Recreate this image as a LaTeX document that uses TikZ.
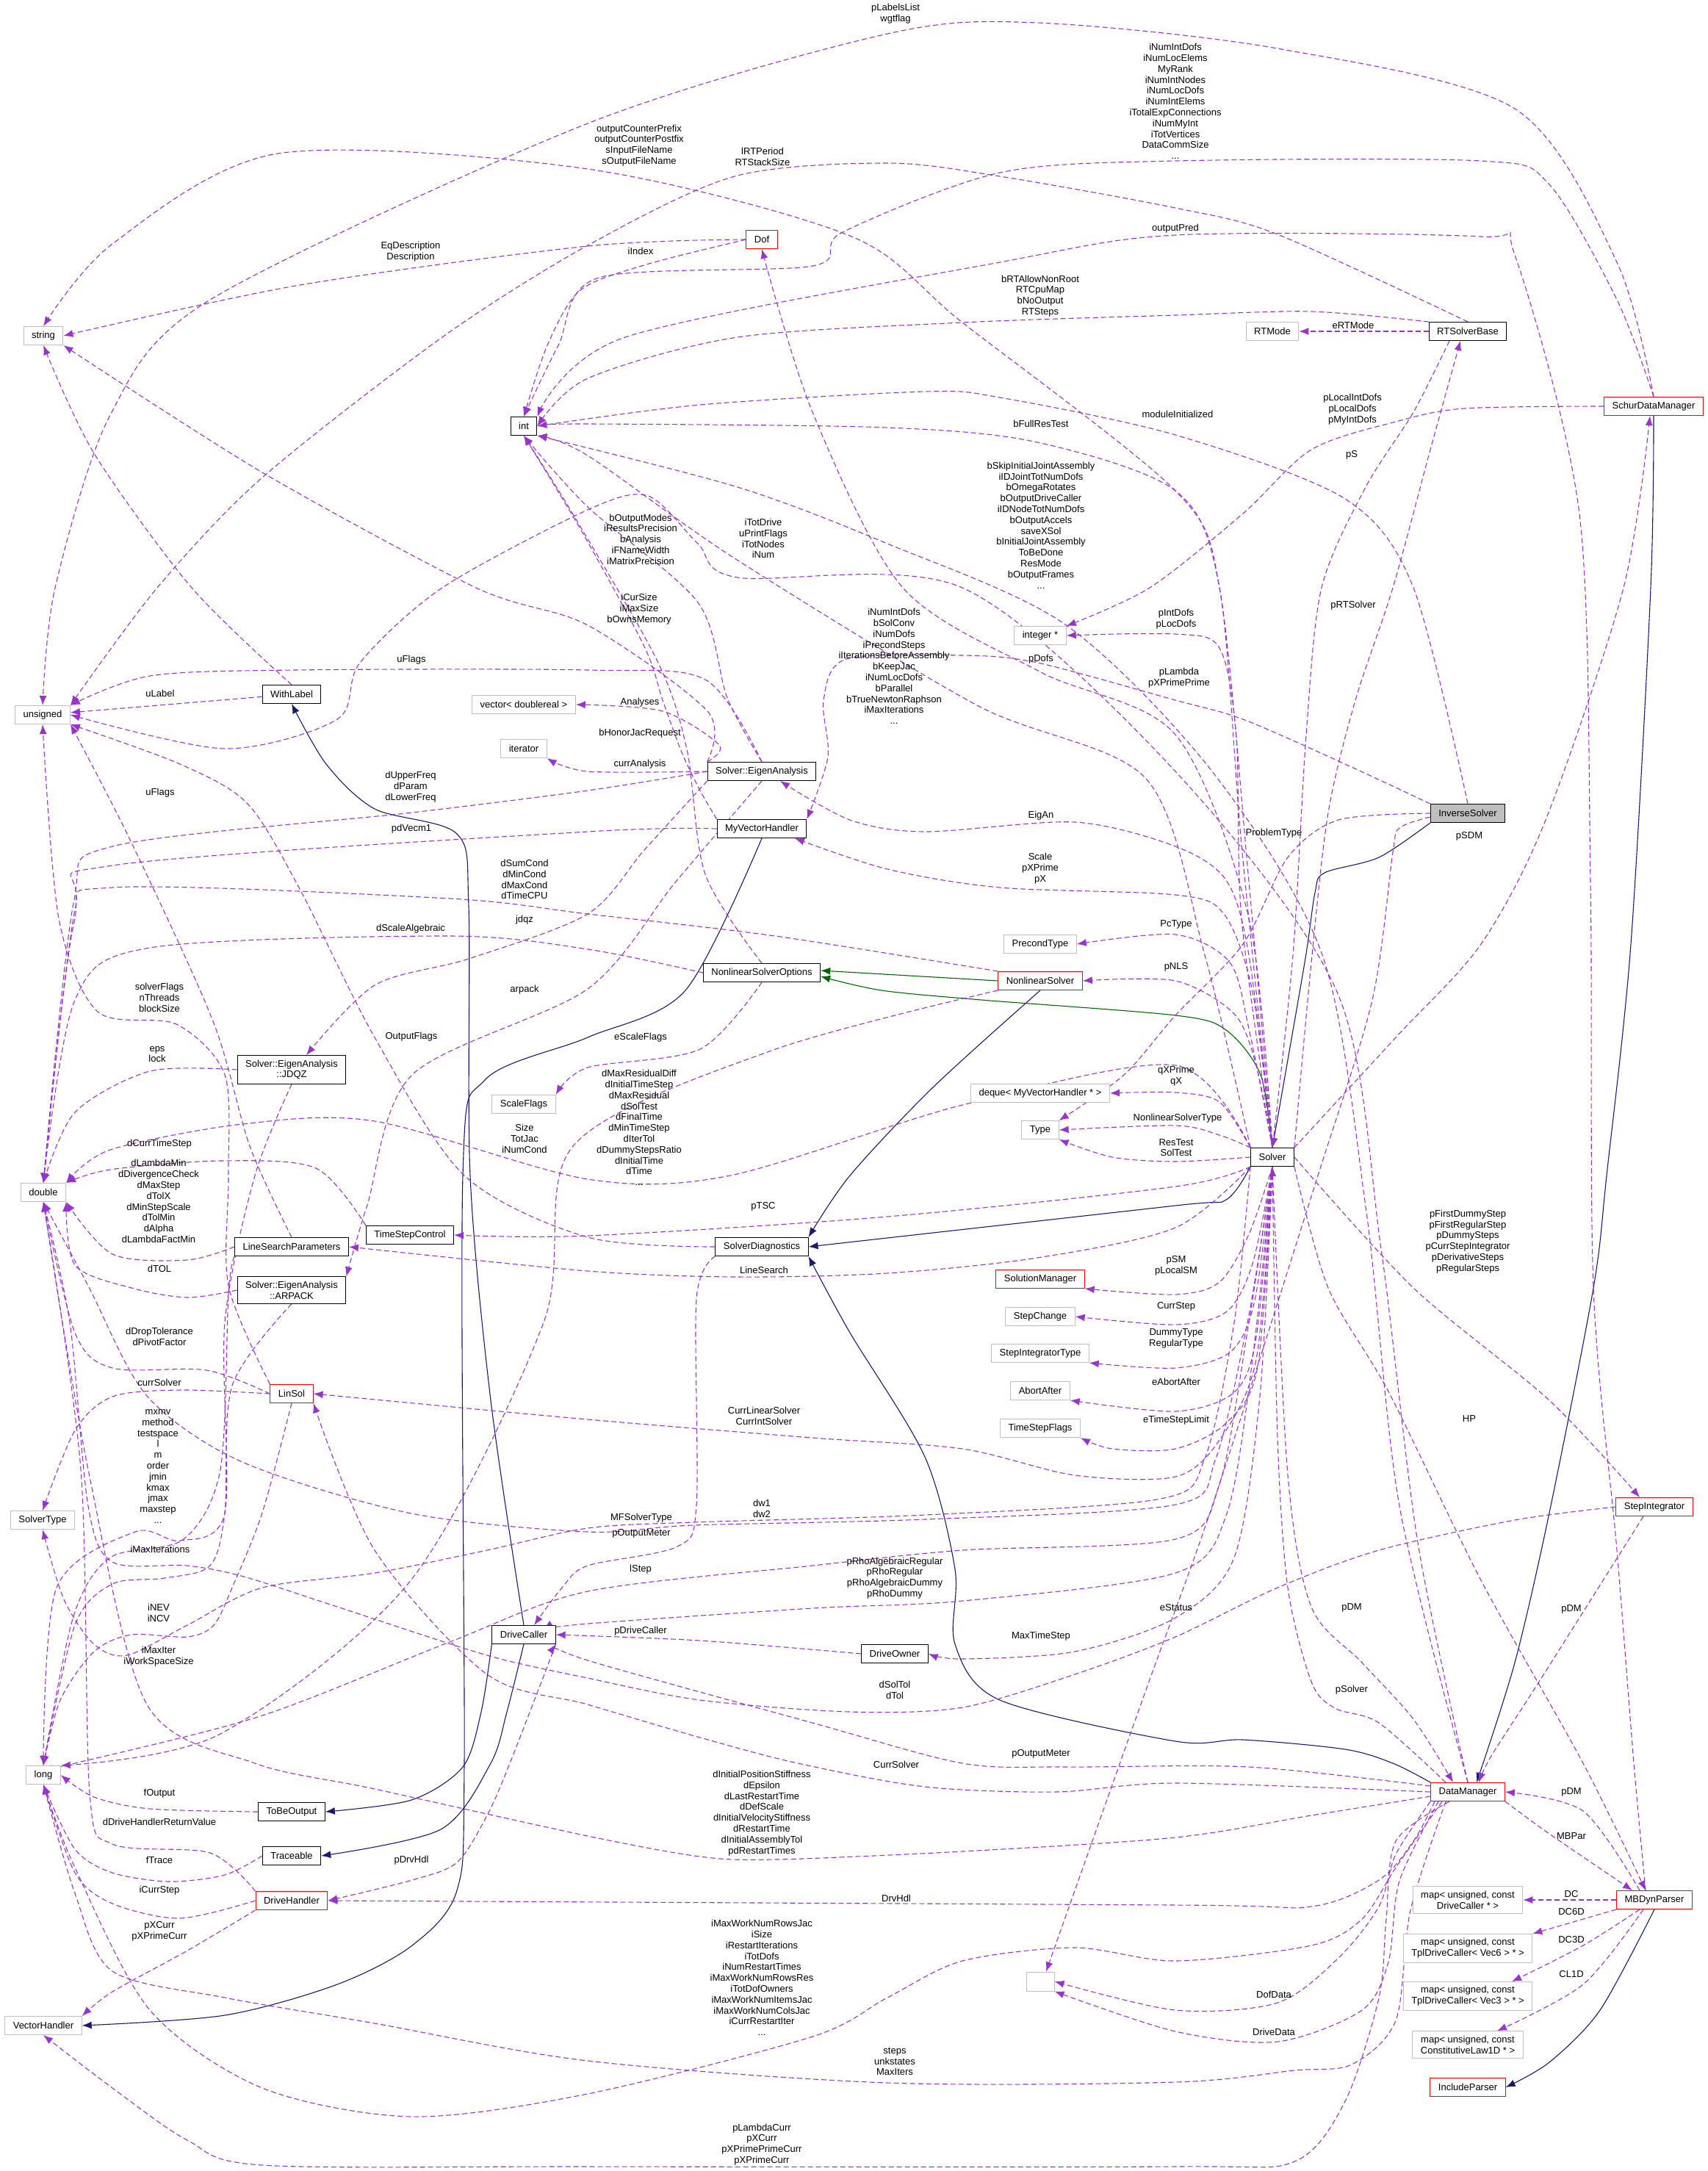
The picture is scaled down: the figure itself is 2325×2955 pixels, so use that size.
\documentclass[tikz,border=0pt]{standalone}
\usepackage{fontspec}
\setmainfont{Liberation Sans}
\usetikzlibrary{arrows.meta,backgrounds}
\definecolor{purp}{RGB}{154,50,205}
\definecolor{navy}{RGB}{25,25,112}
\definecolor{dkgreen}{RGB}{0,100,0}
\definecolor{extgray}{RGB}{191,191,191}
\newcommand\lbl{\fontsize{13}{14.8}\selectfont}
\begin{document}
\begin{tikzpicture}[x=1pt, y=-1pt,
  box/.style={draw, line width=1pt, fill=white, font=\lbl, align=center, inner xsep=11pt, inner ysep=6pt, minimum height=25pt},
  ext/.style={box, draw=extgray},
  undoc/.style={box, draw=red},
  lab/.style={font=\lbl, align=center, inner sep=0pt},
  member/.style={purp, line width=1.1pt, dash pattern=on 7pt off 4pt, line join=round, smooth, tension=0.5, -{Latex[length=13pt,width=10pt]}},
  inherit/.style={navy, line width=1.1pt, smooth, tension=0.5, -{Latex[length=13pt,width=10pt]}},
  protinherit/.style={dkgreen, line width=1.1pt, smooth, tension=0.5, -{Latex[length=13pt,width=10pt]}}
]
\useasboundingbox (0,0) rectangle (2325,2955);

% classes
\node[ext] (string) at (59,457) {string};
\node[box] (int) at (713,580) {int};
\node[undoc] (Dof) at (1037,326) {Dof};
\node[ext] (RTMode) at (1732,451) {RTMode};
\node[box] (RTSolverBase) at (1998,451) {RTSolverBase};
\node[undoc] (SchurDM) at (2251,553) {SchurDataManager};
\node[ext] (unsigned) at (58,973) {unsigned};
\node[box] (WithLabel) at (397,945) {WithLabel};
\node[ext] (vecdr) at (713,959) {vector< doublereal >};
\node[ext] (iterator) at (713,1019) {iterator};
\node[ext] (integerp) at (1416,865) {integer *};
\node[box] (EigAn) at (1037,1050) {Solver::EigenAnalysis};
\node[box] (MyVH) at (1037,1128) {MyVectorHandler};
\node[box, fill=black!25] (InvSolver) at (1998,1107) {InverseSolver};
\node[ext] (PrecondType) at (1416,1285) {PrecondType};
\node[box] (NLSOpt) at (1037,1324) {NonlinearSolverOptions};
\node[undoc] (NLS) at (1416,1335) {NonlinearSolver};
\node[box] (JDQZ) at (397,1456) {Solver::EigenAnalysis\\::JDQZ};
\node[ext] (deque) at (1416,1488) {deque< MyVectorHandler * >};
\node[ext] (ScaleFlags) at (713,1503) {ScaleFlags};
\node[ext] (Type) at (1416,1538) {Type};
\node[box] (Solver) at (1732,1575) {Solver};
\node[ext] (double) at (59,1623) {double};
\node[box] (TSC) at (558,1681) {TimeStepControl};
\node[box] (LSP) at (397,1697) {LineSearchParameters};
\node[box] (SolverDiag) at (1037,1697) {SolverDiagnostics};
\node[undoc] (SolMan) at (1416,1741) {SolutionManager};
\node[box] (ARPACK) at (397,1756) {Solver::EigenAnalysis\\::ARPACK};
\node[ext] (StepChange) at (1416,1792) {StepChange};
\node[ext] (SIType) at (1416,1842) {StepIntegratorType};
\node[ext] (AbortAfter) at (1416,1893) {AbortAfter};
\node[undoc] (LinSol) at (397,1897) {LinSol};
\node[ext] (TSFlags) at (1416,1944) {TimeStepFlags};
\node[undoc] (StepInt) at (2252,2051) {StepIntegrator};
\node[ext] (SolverType) at (58,2069) {SolverType};
\node[box] (DriveCaller) at (713,2225) {DriveCaller};
\node[box] (DriveOwner) at (1218,2251) {DriveOwner};
\node[ext] (long) at (59,2416) {long};
\node[undoc] (DM) at (1998,2439) {DataManager};
\node[box] (ToBeOutput) at (397,2466) {ToBeOutput};
\node[box] (Traceable) at (397,2526) {Traceable};
\node[undoc] (DriveHandler) at (397,2587) {DriveHandler};
\node[undoc] (MBDynParser) at (2252,2586) {MBDynParser};
\node[ext] (mapDC) at (1998,2586) {map< unsigned, const\\DriveCaller * >};
\node[ext] (mapV6) at (1998,2652) {map< unsigned, const\\TplDriveCaller< Vec6 > * >};
\node[ext] (mapV3) at (1998,2717) {map< unsigned, const\\TplDriveCaller< Vec3 > * >};
\node[ext] (mapCL) at (1998,2783) {map< unsigned, const\\ConstitutiveLaw1D * >};
\node[ext, minimum width=38pt, minimum height=26pt] (anon) at (1416,2697) {};
\node[ext] (VectorHandler) at (59,2757) {VectorHandler};
\node[undoc] (IncludeParser) at (1998,2841) {IncludeParser};

% member labels
\node[lab] (lPLabels) at (1219,19) {pLabelsList\\wgtflag};
\node[lab] (lSchurInt) at (1600,138) {iNumIntDofs\\iNumLocElems\\MyRank\\iNumIntNodes\\iNumLocDofs\\iNumIntElems\\iTotalExpConnections\\iNumMyInt\\iTotVertices\\DataCommSize\\...};
\node[lab] (lOutCnt) at (870,198) {outputCounterPrefix\\outputCounterPostfix\\sInputFileName\\sOutputFileName};
\node[lab] (lRTPeriod) at (1038,213) {lRTPeriod\\RTStackSize};
\node[lab] (lEqDesc) at (559,343) {EqDescription\\Description};
\node[lab] (liIndex) at (872,342) {iIndex};
\node[lab] (lOutPred) at (1600,311) {outputPred};
\node[lab] (lRTAllow) at (1416,403) {bRTAllowNonRoot\\RTCpuMap\\bNoOutput\\RTSteps};
\node[lab] (leRTMode) at (1842,443) {eRTMode};
\node[lab] (lLocalInt) at (1841,557) {pLocalIntDofs\\pLocalDofs\\pMyIntDofs};
\node[lab] (lModInit) at (1603,564) {moduleInitialized};
\node[lab] (lFullRes) at (1417,577) {bFullResTest};
\node[lab] (lSkip) at (1417,715) {bSkipInitialJointAssembly\\iIDJointTotNumDofs\\bOmegaRotates\\bOutputDriveCaller\\iIDNodeTotNumDofs\\bOutputAccels\\saveXSol\\bInitialJointAssembly\\ToBeDone\\ResMode\\bOutputFrames\\...};
\node[lab] (lpS) at (1840,619) {pS};
\node[lab] (lpRT) at (1842,824) {pRTSolver};
\node[lab] (lTotDrive) at (1039,733) {iTotDrive\\uPrintFlags\\iTotNodes\\iNum};
\node[lab] (lOutModes) at (872,734) {bOutputModes\\iResultsPrecision\\bAnalysis\\iFNameWidth\\iMatrixPrecision};
\node[lab] (lCurSize) at (870,829) {iCurSize\\iMaxSize\\bOwnsMemory};
\node[lab] (lNumInt) at (1217,907) {iNumIntDofs\\bSolConv\\iNumDofs\\iPrecondSteps\\iIterationsBeforeAssembly\\bKeepJac\\iNumLocDofs\\bParallel\\bTrueNewtonRaphson\\iMaxIterations\\...};
\node[lab] (lIntDofs) at (1601,843) {pIntDofs\\pLocDofs};
\node[lab] (lpDofs) at (1417,897) {pDofs};
\node[lab] (lLambda) at (1605,923) {pLambda\\pXPrimePrime};
\node[lab] (luFlags) at (560,898) {uFlags};
\node[lab] (luLabel) at (218,944) {uLabel};
\node[lab] (lAnalyses) at (871,956) {Analyses};
\node[lab] (lHonor) at (871,998) {bHonorJacRequest};
\node[lab] (lcurrAn) at (871,1040) {currAnalysis};
\node[lab] (lFreq) at (559,1071) {dUpperFreq\\dParam\\dLowerFreq};
\node[lab] (luFlagsB) at (218,1079) {uFlags};
\node[lab] (lEigAn) at (1417,1110) {EigAn};
\node[lab] (lVecm) at (560,1128) {pdVecm1};
\node[lab] (lProblem) at (1734,1134) {ProblemType};
\node[lab] (lpSDM) at (2000,1138) {pSDM};
\node[lab] (lScale) at (1416,1182) {Scale\\pXPrime\\pX};
\node[lab] (lCond) at (714,1197) {dSumCond\\dMinCond\\dMaxCond\\dTimeCPU};
\node[lab] (ljdqz) at (714,1252) {jdqz};
\node[lab] (lPcType) at (1601,1258) {PcType};
\node[lab] (lScaleAlg) at (559,1264) {dScaleAlgebraic};
\node[lab] (lpNLS) at (1601,1316) {pNLS};
\node[lab] (larpack) at (714,1347) {arpack};
\node[lab] (lSolvFlags) at (217,1358) {solverFlags\\nThreads\\blockSize};
\node[lab] (lOutFlags) at (560,1411) {OutputFlags};
\node[lab] (leScale) at (872,1412) {eScaleFlags};
\node[lab] (leps) at (214,1435) {eps\\lock};
\node[lab] (lqX) at (1601,1465) {qXPrime\\qX};
\node[lab] (lNLSType) at (1603,1522) {NonlinearSolverType};
\node[lab] (lMaxRes) at (870,1535) {dMaxResidualDiff\\dInitialTimeStep\\dMaxResidual\\dSolTest\\dFinalTime\\dMinTimeStep\\dIterTol\\dDummyStepsRatio\\dInitialTime\\dTime\\...};
\node[lab] (lSize) at (714,1550) {Size\\TotJac\\iNumCond};
\node[lab] (lCurrTS) at (217,1557) {dCurrTimeStep};
\node[lab] (lResTest) at (1601,1562) {ResTest\\SolTest};
\node[lab] (lLambdaMin) at (216,1635) {dLambdaMin\\dDivergenceCheck\\dMaxStep\\dTolX\\dMinStepScale\\dTolMin\\dAlpha\\dLambdaFactMin};
\node[lab] (lpTSC) at (1039,1642) {pTSC};
\node[lab] (lFirstDummy) at (1998,1690) {pFirstDummyStep\\pFirstRegularStep\\pDummySteps\\pCurrStepIntegrator\\pDerivativeSteps\\pRegularSteps};
\node[lab] (lpSM) at (1601,1723) {pSM\\pLocalSM};
\node[lab] (ldTOL) at (217,1727) {dTOL};
\node[lab] (lLineSearch) at (1040,1729) {LineSearch};
\node[lab] (lCurrStep) at (1601,1778) {CurrStep};
\node[lab] (lDrop) at (217,1819) {dDropTolerance\\dPivotFactor};
\node[lab] (lDummyType) at (1601,1822) {DummyType\\RegularType};
\node[lab] (leAbort) at (1601,1881) {eAbortAfter};
\node[lab] (lcurrSolver) at (217,1882) {currSolver};
\node[lab] (lCurrLin) at (1040,1927) {CurrLinearSolver\\CurrIntSolver};
\node[lab] (lHP) at (2000,1931) {HP};
\node[lab] (leTSL) at (1601,1933) {eTimeStepLimit};
\node[lab] (lmxmv) at (215,1996) {mxmv\\method\\testspace\\l\\m\\order\\jmin\\kmax\\jmax\\maxstep\\...};
\node[lab] (ldw) at (1037,2053) {dw1\\dw2};
\node[lab] (lMF) at (873,2066) {MFSolverType};
\node[lab] (lOutMeterA) at (873,2087) {pOutputMeter};
\node[lab] (liMaxIt) at (218,2109) {iMaxIterations};
\node[lab] (llStep) at (872,2136) {lStep};
\node[lab] (lRho) at (1218,2148) {pRhoAlgebraicRegular\\pRhoRegular\\pRhoAlgebraicDummy\\pRhoDummy};
\node[lab] (lpDMa) at (1840,2188) {pDM};
\node[lab] (lpDMb) at (2139,2190) {pDM};
\node[lab] (leStatus) at (1601,2188) {eStatus};
\node[lab] (liNEV) at (216,2195) {iNEV\\iNCV};
\node[lab] (lpDrvCaller) at (872,2220) {pDriveCaller};
\node[lab] (lMaxTS) at (1417,2227) {MaxTimeStep};
\node[lab] (liMaxIter) at (216,2255) {iMaxIter\\iWorkSpaceSize};
\node[lab] (ldSolTol) at (1218,2300) {dSolTol\\dTol};
\node[lab] (lpSolver) at (1840,2300) {pSolver};
\node[lab] (lOutMeterB) at (1417,2387) {pOutputMeter};
\node[lab] (lCurrSolver) at (1220,2402) {CurrSolver};
\node[lab] (lpDMc) at (2139,2439) {pDM};
\node[lab] (lfOutput) at (217,2441) {fOutput};
\node[lab] (lInitPos) at (1037,2468) {dInitialPositionStiffness\\dEpsilon\\dLastRestartTime\\dDefScale\\dInitialVelocityStiffness\\dRestartTime\\dInitialAssemblyTol\\pdRestartTimes};
\node[lab] (lRetVal) at (217,2480) {dDriveHandlerReturnValue};
\node[lab] (lMBPar) at (2139,2499) {MBPar};
\node[lab] (lfTrace) at (217,2532) {fTrace};
\node[lab] (lpDrvHdl) at (560,2532) {pDrvHdl};
\node[lab] (liCurrStep) at (217,2573) {iCurrStep};
\node[lab] (lDC) at (2139,2578) {DC};
\node[lab] (lDrvHdl) at (1220,2584) {DrvHdl};
\node[lab] (lDC6D) at (2139,2602) {DC6D};
\node[lab] (lpXCurr) at (217,2629) {pXCurr\\pXPrimeCurr};
\node[lab] (lDC3D) at (2139,2640) {DC3D};
\node[lab] (lCL1D) at (2139,2687) {CL1D};
\node[lab] (lMaxWork) at (1037,2692) {iMaxWorkNumRowsJac\\iSize\\iRestartIterations\\iTotDofs\\iNumRestartTimes\\iMaxWorkNumRowsRes\\iTotDofOwners\\iMaxWorkNumItemsJac\\iMaxWorkNumColsJac\\iCurrRestartIter\\...};
\node[lab] (lDofData) at (1734,2715) {DofData};
\node[lab] (lDriveData) at (1734,2766) {DriveData};
\node[lab] (lsteps) at (1218,2806) {steps\\unkstates\\MaxIters};
\node[lab] (lLambdaCurr) at (1037,2919) {pLambdaCurr\\pXCurr\\pXPrimePrimeCurr\\pXPrimeCurr};

\begin{scope}[on background layer]
% inheritance
\draw[inherit] plot coordinates {(InvSolver.south west) (1877,1167) (1803,1188) (1790,1215) (1776,1310) (Solver.north)};
\draw[inherit] plot coordinates {(SchurDM.south) (2247,800) (2220,1285) (2187,1600) (2169,1753) (2109,2059) (2062,2263) ([xshift=12pt]DM.north)};
\draw[inherit] plot coordinates {(Solver.south west) (1669,1633) (1600,1641) (SolverDiag.east)};
\draw[inherit] plot coordinates {(NLS.south) (1270,1480) (1157,1600) (SolverDiag.north east)};
\draw[inherit] plot coordinates {(DM.north west) (1896,2400) (1831,2381) (1692,2368) (1600,2370) (1361,2314) (1300,2238) (1300,2136) (1259,1983) (1157,1814) (SolverDiag.south east)};
\draw[inherit] plot coordinates {(MyVH.south) (933,1348) (800,1412) (660,1470) (630,1600) (632,2400) (622,2573) (561,2648) (459,2701) (306,2743) (VectorHandler.east)};
\draw[inherit] plot coordinates {(DriveCaller.north) (668,1906) (640,1600) (638,1234) (622,1135) (510,1101) (444,1040) (WithLabel.south)};
\draw[inherit] plot coordinates {(DriveCaller.south west) (655,2330) (630,2405) (560,2450) (ToBeOutput.east)};
\draw[inherit] plot coordinates {(DriveCaller.south) (690,2330) (668,2400) (600,2490) (Traceable.east)};
\draw[inherit] plot coordinates {(MBDynParser.south) (2178,2736) (2109,2807) (IncludeParser.east)};
\draw[protinherit] (NLS.west) -- ([yshift=3pt]NLSOpt.east);
\draw[protinherit] plot coordinates {(Solver.north) (1716,1463) (1669,1402) (1600,1382) (1336,1361) (1200,1348) ([yshift=-5pt]NLSOpt.east)};

% members towards the top
\draw[member] plot coordinates {(SchurDM.north) (2201,357) (2062,148) (1739,66) (1412,31) (1208,46) (800,168) (286,408) (150,565) (75,800) (unsigned.north)};
\draw[member] plot coordinates {(SchurDM.north) (2201,408) (2108,250) (2016,219) (1600,219) (1361,235) (1147,316) (1106,362) (815,378) (760,470) (int.north)};
\draw[member] plot coordinates {(Solver.north) (1690,1150) (1660,800) (1600,668) (1310,439) (1157,321) (800,230) (378,209) (153,332) (string.north)};
\draw[member] plot coordinates {(RTSolverBase.north) (1739,319) (1600,283) (1361,240) (1208,222) (1000,240) (800,334) (602,459) (357,650) (214,800) (unsigned.north east)};
\draw[member] plot coordinates {(Dof.west) (800,335) (408,388) (string.east)};
\draw[member] plot coordinates {(Dof.west) (880,360) (790,395) (745,470) (int.north)};
\draw[member] plot coordinates {([xshift=-12pt]MBDynParser.north) (2224,2400) (2201,2110) (2169,1753) (2165,1200) (2150,700) (2062,347) (2016,322) (1600,320) (1361,357) (851,459) (int.north east)};
\draw[member] plot coordinates {(RTSolverBase.north west) (1785,424) (1600,429) (1310,439) (1004,459) (800,515) (int.east)};
\draw[member] (RTSolverBase) -- (RTMode);
\draw[member] plot coordinates {(InvSolver.north) (1924,800) (1831,679) (1600,592) (1361,541) (1259,533) (953,551) (int.east)};
\draw[member] plot coordinates {(Solver.north) (1700,1200) (1660,800) (1600,668) (1412,602) (1208,582) (800,577) (int.east)};
\draw[member] plot coordinates {(DM.north) (1905,2050) (1860,1650) (1800,1300) (1650,1050) (1450,850) (1208,740) (1004,663) (int.south east)};
\draw[member] plot coordinates {(DM.north) (1930,2100) (1880,1700) (1820,1350) (1600,1050) (1310,800) (1004,786) (950,740) (882,675) (800,694) (602,800) (490,902) (459,979) (306,1019) (unsigned.east)};
\draw[member] plot coordinates {(EigAn.north) (990,950) (950,820) (800,690) (int.south)};
\draw[member] plot coordinates {(MyVH.north west) (953,1076) (928,1024) (902,953) (877,880) (790,720) (int.south)};
\draw[member] plot coordinates {(EigAn.north west) (963,968) (800,851) (648,800) (357,643) (string.south east)};
\draw[member] plot coordinates {(EigAn.north) (960,925) (800,912) (400,912) (204,920) (unsigned.north east)};
\draw[member] (WithLabel) -- (unsigned);
\draw[member] plot coordinates {(WithLabel.north) (261,800) (128,617) (string.south)};
\draw[member] plot coordinates {(EigAn.north west) (979,1014) (902,968) (vecdr.east)};
\draw[member] plot coordinates {(EigAn.west) (800,1050) (iterator.south east)};
\draw[member] plot coordinates {(EigAn.west) (800,1076) (561,1106) (153,1152) (100,1230) (double.north)};
\draw[member] plot coordinates {(EigAn.south west) (877,1157) (800,1244) (638,1305) (510,1341) ([xshift=20pt]JDQZ.north)};
\draw[member] plot coordinates {(EigAn.south) (920,1200) (800,1346) (561,1463) (500,1640) (ARPACK.north east)};
\draw[member] plot coordinates {(MyVH.west) (800,1132) (153,1178) (102,1239) (double.north)};
\draw[member] plot coordinates {(NLSOpt.north) (960,1190) (935,1020) (895,900) (780,700) (int.south)};
\draw[member] plot coordinates {(NLSOpt.west) (800,1292) (612,1274) (204,1290) (102,1361) (double.north)};
\draw[member] plot coordinates {(NLSOpt.south) (953,1428) (800,1453) (ScaleFlags.north east)};
\draw[member] plot coordinates {(NLS.north west) (1055,1274) (800,1244) (612,1223) (153,1208) (100,1260) (double.north)};
\draw[member] plot coordinates {(NLS.south west) (1050,1430) (780,1560) (740,1800) (560,2150) (300,2360) (long.north east)};

% members on the left column
\draw[member] plot coordinates {(Solver.north west) (1600,1450) (1310,1504) (994,1600) (800,1605) (510,1526) (330,1530) (150,1565) (double.north east)};
\draw[member] plot coordinates {(TSC.north west) (430,1590) (300,1580) (150,1592) (double.north east)};
\draw[member] plot coordinates {(LSP.west) (255,1715) (153,1707) (double.south east)};
\draw[member] plot coordinates {(LSP.north) (340,1560) (290,1390) (179,1147) (unsigned.south east)};
\draw[member] plot coordinates {(LinSol.north west) (311,1750) (311,1600) (306,1463) (240,1394) (133,1377) (80,1250) (unsigned.south)};
\draw[member] plot coordinates {(SolverDiag.west) (800,1684) (632,1600) (510,1412) (408,1210) (337,1094) (245,1040) (unsigned.south east)};
\draw[member] plot coordinates {(JDQZ.west) (204,1458) (102,1514) (double.north)};
\draw[member] plot coordinates {(JDQZ.south) (347,1600) (306,1800) (306,2059) (245,2097) (184,2085) (77,2161) (long.north)};
\draw[member] plot coordinates {(ARPACK.west) (255,1766) (179,1753) (102,1722) (double.south east)};
\draw[member] plot coordinates {(ARPACK.south) (316,1886) (306,2059) (286,2131) (224,2148) (153,2156) (102,2212) (long.north)};
\draw[member] plot coordinates {(LinSol.west) (281,1865) (153,1862) (102,1814) (double.south)};
\draw[member] plot coordinates {(LinSol.west) (245,1892) (153,1901) (102,1947) (SolverType.north)};
\draw[member] plot coordinates {(LinSol.south) (357,2059) (316,2161) (291,2212) (255,2228) (179,2225) (128,2248) (82,2314) (long.north)};
\draw[member] plot coordinates {(LSP.south west) (311,1760) (300,2000) (250,2095) (150,2120) (100,2200) (long.north)};

% members of Solver and InverseSolver
\draw[member] plot coordinates {(Solver.east) (1924,1753) (2109,1906) ([xshift=-20pt]StepInt.north)};
\draw[member] plot coordinates {(Solver.south east) (1808,1753) (1891,1896) (2016,2151) (2155,2400) ([xshift=-12pt]MBDynParser.north)};
\draw[member] plot coordinates {(Solver.south) (1753,2008) (1785,2187) (1854,2263) (1924,2340) ([xshift=-20pt]DM.north)};
\draw[member] plot coordinates {([xshift=-30pt]DM.north) (1877,2345) (1817,2325) (1785,2289) (1753,2161) (1739,1957) (Solver.south)};
\draw[member] plot coordinates {([xshift=-15pt]StepInt.south) (2095,2289) (2030,2390) ([xshift=15pt]DM.north)};
\draw[member] plot coordinates {([xshift=-20pt]MBDynParser.north) (2155,2465) (DM.east)};
\draw[member] plot coordinates {(DM.south east) (2109,2496) ([xshift=-30pt]MBDynParser.north)};
\draw[member] (MBDynParser) -- (mapDC);
\draw[member] (MBDynParser.south west) -- (mapV6.north east);
\draw[member] plot coordinates {([xshift=-20pt]MBDynParser.south) (2155,2648) ([xshift=60pt]mapV3.north)};
\draw[member] plot coordinates {([xshift=-15pt]MBDynParser.south) (2155,2701) ([xshift=40pt]mapCL.north)};
\draw[member] plot coordinates {(DM.south west) (1900,2524) (1877,2595) (1822,2665) (1739,2726) (1600,2736) (anon.east)};
\draw[member] plot coordinates {([xshift=-40pt]DM.south) (1905,2560) (1890,2670) (1854,2736) (1739,2779) (1600,2765) (anon.south east)};
\draw[member] plot coordinates {([yshift=-5pt]InvSolver.west) (1905,1127) (1896,1160) (1868,1361) (1794,1600) (1650,2050) (1560,2300) ([xshift=8pt]anon.north)};
\draw[member] plot coordinates {([xshift=-45pt]DM.south) (1924,2506) (1877,2559) (1785,2595) (1600,2593) (DriveHandler.east)};
\draw[member] plot coordinates {([xshift=-35pt]DM.south) (1900,2542) (1854,2612) (1785,2648) (1600,2669) (1463,2651) (1310,2669) (1208,2719) (1106,2772) (800,2850) (561,2881) (357,2842) (204,2736) (102,2542) (long.south)};
\draw[member] plot coordinates {([xshift=-30pt]DM.south) (1920,2600) (1900,2750) (1840,2810) (1762,2818) (1600,2834) (1208,2835) (800,2805) (510,2754) (306,2719) (153,2683) (102,2577) (long.south)};
\draw[member] plot coordinates {([xshift=-25pt]DM.south) (1900,2506) (1887,2612) (1877,2719) (1831,2860) (1762,2942) (1600,2949) (800,2949) (357,2947) (255,2913) (153,2842) (VectorHandler.south)};
\draw[member] plot coordinates {(DriveHandler.south west) (255,2655) (153,2711) (VectorHandler.north east)};
\draw[member] plot coordinates {(DriveHandler.west) (245,2611) (153,2591) (102,2549) (long.south)};
\draw[member] plot coordinates {(DriveHandler.north west) (286,2522) (153,2510) (122,2440) (110,2000) (double.south)};
\draw[member] plot coordinates {(Traceable.west) (306,2552) (230,2561) (153,2549) (102,2517) (long.south)};
\draw[member] plot coordinates {(ToBeOutput.west) (204,2462) (128,2446) (long.east)};
\draw[member] plot coordinates {([yshift=-6pt]DM.west) (1785,2471) (1600,2501) (1310,2520) (1055,2531) (953,2527) (800,2499) (510,2435) (347,2400) (200,2320) (120,2000) (double.south)};
\draw[member] plot coordinates {(DM.west) (1600,2427) (1438,2439) (1259,2432) (1086,2400) (953,2365) (800,2320) (663,2279) (510,2110) (LinSol.south east)};
\draw[member] plot coordinates {([yshift=8pt]DM.west) (1700,2405) (1450,2405) (1310,2400) (1106,2345) (800,2260) (DriveCaller.south east)};
\draw[member] plot coordinates {(SolverDiag.south west) (948,1768) (948,2049) (922,2105) (800,2131) (765,2161) ([xshift=14pt]DriveCaller.north)};
\draw[member] plot coordinates {(DriveOwner.west) (953,2233) (DriveCaller.east)};
\draw[member] plot coordinates {(DriveCaller.south east) (694,2400) (663,2471) (622,2535) (561,2559) (DriveHandler.east)};
\draw[member] plot coordinates {(Solver.south) (1715,1900) (1680,2120) (1600,2202) (1463,2248) (1310,2258) (DriveOwner.east)};
\draw[member] plot coordinates {(Solver.south) (1705,1850) (1670,2060) (1600,2141) (1310,2179) (1106,2189) (800,2210) ([yshift=8pt]DriveCaller.east)};
\draw[member] plot coordinates {(Solver.south) (1700,1800) (1660,2020) (1600,2095) (1310,2110) (1106,2131) (800,2166) (612,2235) (357,2335) (102,2400) (long.north east)};
\draw[member] plot coordinates {(Solver.south west) (1680,1800) (1640,1985) (1580,2040) (1259,2062) (943,2072) (800,2080) (663,2110) (510,2141) (357,2161) (255,2212) (173,2253) (128,2238) (87,2177) (SolverType.south)};
\draw[member] plot coordinates {(Solver.south) (1700,1790) (1655,1985) (1600,2048) (1259,2068) (943,2076) (800,2085) (560,2060) (330,1990) (200,1900) (120,1750) (double.south)};
\draw[member] plot coordinates {(StepInt.west) (2062,2069) (1877,2110) (1739,2161) (1600,2228) (1463,2279) (1310,2324) (1157,2330) (953,2314) (800,2284) (663,2253) (459,2187) (332,2146) (255,2131) (153,2126) (120,2050) (95,1800) (double.south)};
\draw[member] plot coordinates {(Solver.south) (1710,1850) (1660,1960) (1600,2010) (1463,2008) (1310,1972) (1106,1957) (800,1932) (LinSol.east)};
\draw[member] plot coordinates {(Solver.south west) (1600,1671) (1412,1712) (1208,1733) (1004,1738) (800,1730) (LSP.east)};
\draw[member] plot coordinates {(Solver.south west) (1600,1615) (1208,1656) (800,1682) (TSC.east)};
\draw[member] plot coordinates {(Solver.south) (1700,1680) (1660,1745) (1600,1762) (SolMan.south east)};
\draw[member] plot coordinates {(Solver.south) (1705,1720) (1670,1785) (1600,1803) (StepChange.east)};
\draw[member] plot coordinates {(Solver.south) (1708,1770) (1675,1840) (1600,1862) (SIType.south east)};
\draw[member] plot coordinates {(Solver.south) (1710,1820) (1680,1895) (1600,1921) (AbortAfter.south east)};
\draw[member] plot coordinates {(Solver.south) (1712,1860) (1669,1937) (1600,1972) (1514,1972) (TSFlags.south east)};
\draw[member] plot coordinates {(Solver.north) (1700,1400) (1674,1310) (1600,1272) (PrecondType.east)};
\draw[member] plot coordinates {(Solver.north) (1710,1450) (1680,1380) (1600,1335) (NLS.east)};
\draw[member] plot coordinates {(Solver.north west) (1660,1500) (1600,1487) (deque.east)};
\draw[member] plot coordinates {(Solver.north west) (1660,1545) (1600,1532) (Type.east)};
\draw[member] plot coordinates {(Solver.west) (1600,1581) (1514,1575) (Type.south east)};
\draw[member] plot coordinates {(InvSolver.west) (1822,1116) (1753,1167) (1692,1285) (1600,1382) (1530,1463) (Type.north east)};
\draw[member] plot coordinates {(InvSolver.north west) (1831,1040) (1692,979) (1600,953) (1412,902) (1310,892) (1152,897) (1121,953) (1127,1030) (MyVH.north east)};
\draw[member] plot coordinates {(Solver.north) (1700,1300) (1669,1198) (1600,1152) (1463,1119) (1259,1132) (1157,1116) ([xshift=25pt]EigAn.south)};
\draw[member] plot coordinates {(Solver.north) (1705,1350) (1666,1244) (1600,1218) (1361,1208) (1208,1183) ([xshift=45pt]MyVH.south)};
\draw[member] plot coordinates {(Solver.north) (1690,1250) (1683,1004) (1660,882) (1600,863) (integerp.east)};
\draw[member] plot coordinates {(SchurDM.west) (1993,556) (1900,574) (1785,612) (1692,699) (1565,800) (integerp.north east)};
\draw[member] plot coordinates {([xshift=-25pt]RTSolverBase.south) (1924,561) (1859,663) (1799,800) (1778,1000) (1760,1300) (Solver.north)};
\draw[member] plot coordinates {(Solver.north east) (1785,1310) (1808,1106) (1845,953) (1896,800) (1947,612) ([xshift=-10pt]RTSolverBase.south)};
\draw[member] plot coordinates {(Solver.north east) (1900,1412) (2016,1285) (2104,1116) (2210,800) ([xshift=-5pt]SchurDM.south)};
\draw[member] plot coordinates {(Solver.north west) (1640,1300) (1560,1060) (1330,960) (1000,760) (800,620) (int.south east)};
\draw[member] plot coordinates {(Solver.north) (1700,1250) (1600,1000) (1417,915) (1229,800) (1106,561) (Dof.south)};
\end{scope}
\end{tikzpicture}
\end{document}
